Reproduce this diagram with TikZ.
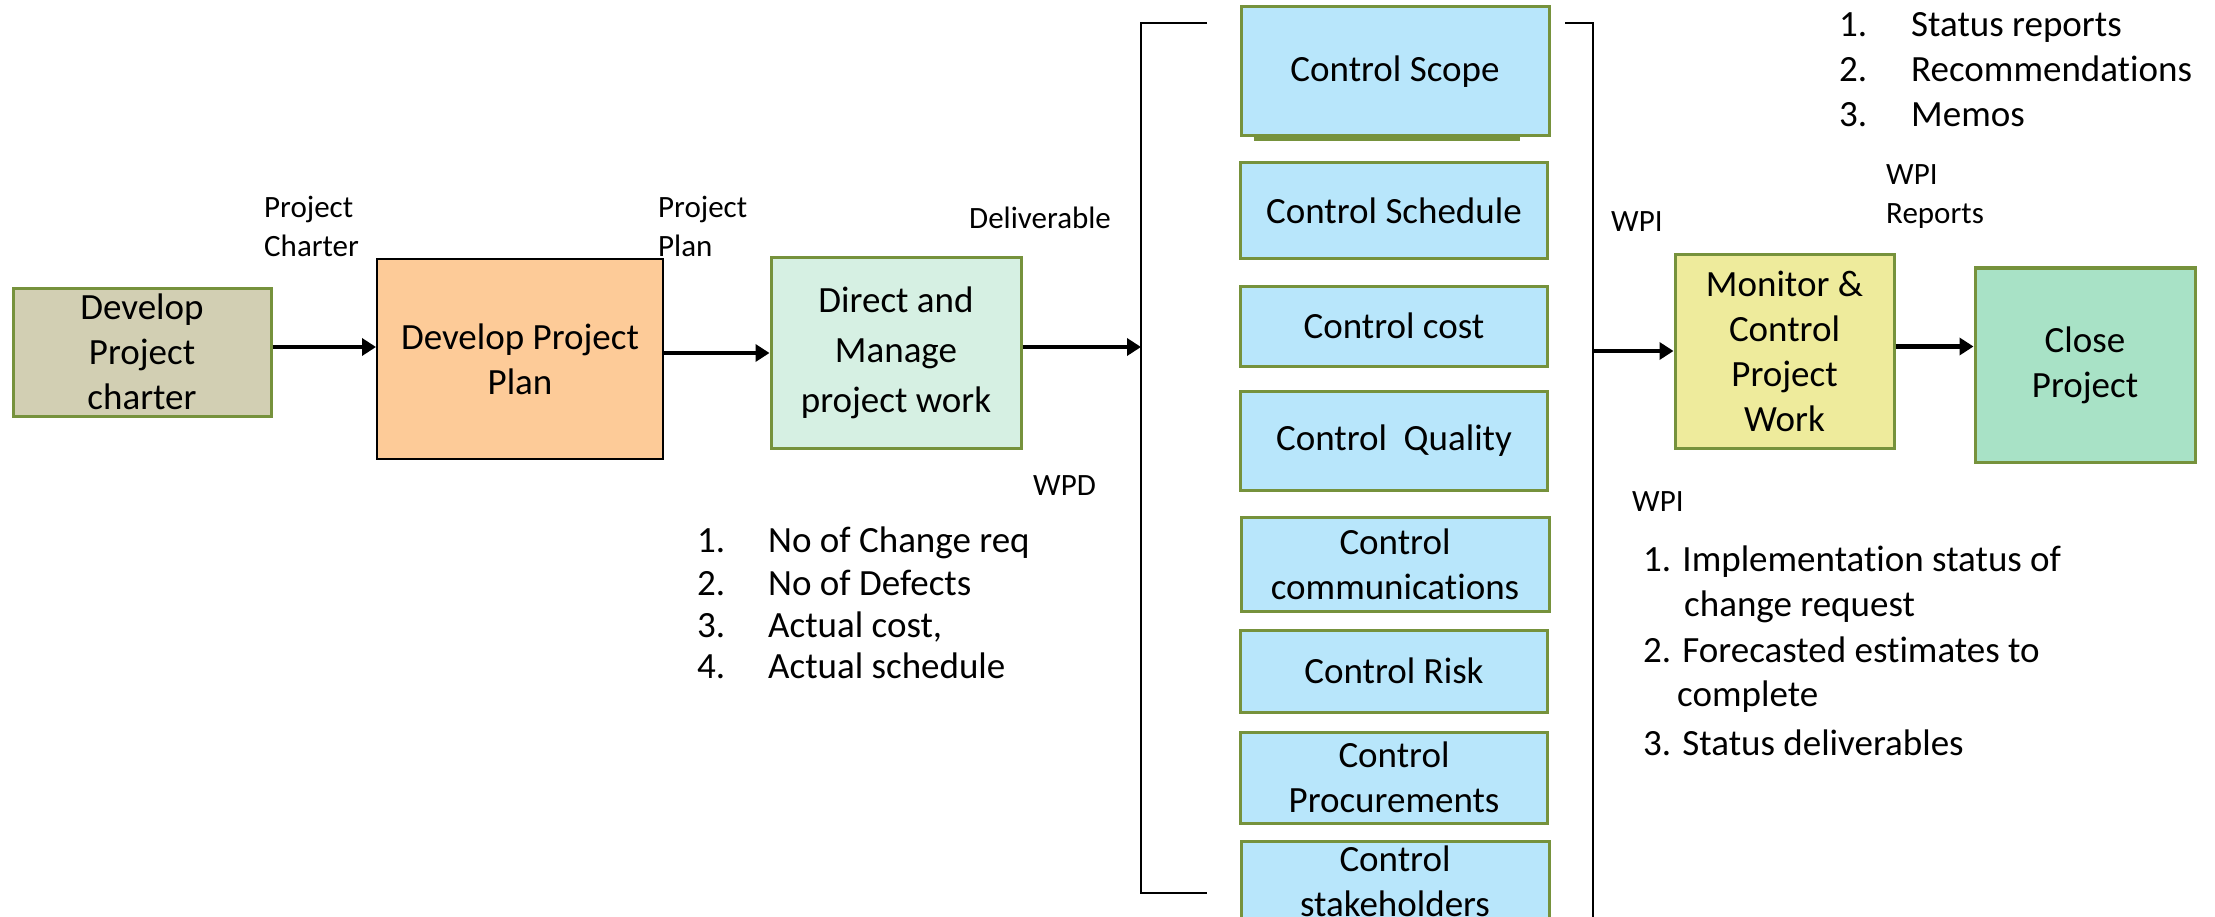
\documentclass[tikz,border=0pt]{standalone}
\usepackage{fontspec}
\setmainfont{Carlito}[Ligatures=NoCommon]
\usetikzlibrary{arrows.meta}
\definecolor{grn}{HTML}{76923C}
\definecolor{tanfill}{HTML}{D2CFB3}
\definecolor{orng}{HTML}{FDCB98}
\definecolor{dirgrn}{HTML}{D6F0E3}
\definecolor{ctlblue}{HTML}{B8E6FB}
\definecolor{monyel}{HTML}{EEEB9C}
\definecolor{closegrn}{HTML}{A8E2C6}
\newcommand{\noti}{t\kern0pt i}
\begin{document}
\begin{tikzpicture}[x=1pt,y=-1pt,
  box/.style={draw=grn, line width=3pt, align=center, inner sep=0pt, font=\fontsize{37}{45}\selectfont},
  ctl/.style={box, fill=ctlblue, minimum width=307pt},
  arr/.style={line width=4.5pt, -{Triangle[length=14pt,width=17pt]}},
  lbl/.style={anchor=base west, inner sep=0pt, font=\fontsize{31}{39}\selectfont},
  lst/.style={anchor=base west, inner sep=0pt, font=\fontsize{37}{45}\selectfont},
  brk/.style={line width=2pt}]
\path[use as bounding box, clip] (0,0) rectangle (2215,917);
\fill[white] (0,0) rectangle (2215,917);

% main boxes
\node[box, fill=tanfill, minimum width=258pt, minimum height=128pt] (charter) at (142,352) {Develop\\Project\\charter};
\node[box, draw=black, line width=2pt, fill=orng, minimum width=286pt, minimum height=200pt] (plan) at (520,359) {Develop Project\\Plan};
\node[box, fill=dirgrn, minimum width=250pt, minimum height=190pt, font=\fontsize{37}{50}\selectfont] (direct) at (896,353) {Direct and\\Manage\\project work};

% control boxes
\node[ctl, minimum width=308pt, minimum height=129pt] (scope) at (1395,71.5) {Control Scope};
\draw[grn, line width=4pt] ([xshift=14pt,yshift=-2pt]scope.south west) -- ([xshift=-31pt,yshift=-2pt]scope.south east);
\node[ctl, minimum height=96pt] (schedule) at (1394,211) {Control Schedule};
\node[ctl, minimum height=80pt] (cost) at (1394,326) {Control cost};
\node[ctl, minimum height=99pt] (quality) at (1394,440.5) {Control\ \ Quality};
\node[ctl, minimum width=308pt, minimum height=94pt] (comm) at (1395,564) {Control\\communica\noti ons};
\node[ctl, minimum height=82pt] (risk) at (1394,671) {Control Risk};
\node[ctl, minimum height=91pt] (proc) at (1394,777.5) {Control\\Procurements};
\node[ctl, minimum width=308pt, minimum height=80pt] (stake) at (1395,881) {Control\\stakeholders};

% right boxes
\node[box, fill=monyel, minimum width=219pt, minimum height=193pt] (monitor) at (1784.5,351.5) {Monitor \&\\Control\\Project\\Work};
\node[box, fill=closegrn, minimum width=220pt, minimum height=194pt] (close) at (2085,365) {Close\\Project};

% brackets
\coordinate (bltop) at (1207,23);
\coordinate (blbot) at (1207,893);
\coordinate (bl) at (1141,347);
\draw[brk] (bltop) -- (1141,23) -- (1141,893) -- (blbot);
\coordinate (brtop) at (1565,23);
\coordinate (br) at (1593,351);
\draw[brk] (brtop) -- (1593,23) -- (1593,935);

% arrows
\draw[arr] ([yshift=5pt]charter.east) -- ([yshift=5pt]charter.east -| plan.west);
\draw[arr] (plan.east |- direct.west) -- (direct.west);
\draw[arr] (direct.east |- bl) -- (bl);
\draw[arr] (br) -- (br -| monitor.west);
\draw[arr] ([yshift=5pt]monitor.east) -- ([yshift=5pt]monitor.east -| close.west);

% small labels
\node[lbl] (pc1) at (264,218) {Project};
\node[lbl] (pc2) at (264,257) {Charter};
\node[lbl] (pp1) at (658,218) {Project};
\node[lbl] (pp2) at (658,257) {Plan};
\node[lbl] (deliv) at (969,229) {Deliverable};
\node[lbl] (wpd) at (1033,495) {WPD};
\node[lbl] (wpi1) at (1611,232) {WPI};
\node[lbl] (wpir1) at (1886,185) {WPI};
\node[lbl] (wpir2) at (1886,224) {Reports};
\node[lbl] (wpi2) at (1632,511) {WPI};

% bottom-left list
\node[lst] (a1n) at (697,552) {1.};
\node[lst] (a1t) at (768,552) {No of Change req};
\node[lst] (a2n) at (697,595) {2.};
\node[lst] (a2t) at (768,595) {No of Defects};
\node[lst] (a3n) at (697,637) {3.};
\node[lst] (a3t) at (768,637) {Actual cost,};
\node[lst] (a4n) at (697,678) {4.};
\node[lst] (a4t) at (768,678) {Actual schedule};

% top-right list
\node[lst] (b1n) at (1839,37) {1.};
\node[lst] (b1t) at (1911,37) {Status reports};
\node[lst] (b2n) at (1839,82) {2.};
\node[lst] (b2t) at (1911,82) {Recommenda\noti ons};
\node[lst] (b3n) at (1839,127) {3.};
\node[lst] (b3t) at (1911,127) {Memos};

% WPI list
\node[lst] (c1) at (1643,571) {1. Implementa\noti on status of};
\node[lst] (c1b) at (1684,616) {change request};
\node[lst] (c2) at (1643,662) {2. Forecasted estimates to};
\node[lst] (c2b) at (1677,706) {complete};
\node[lst] (c3) at (1643,755) {3. Status deliverables};
\end{tikzpicture}
\end{document}
